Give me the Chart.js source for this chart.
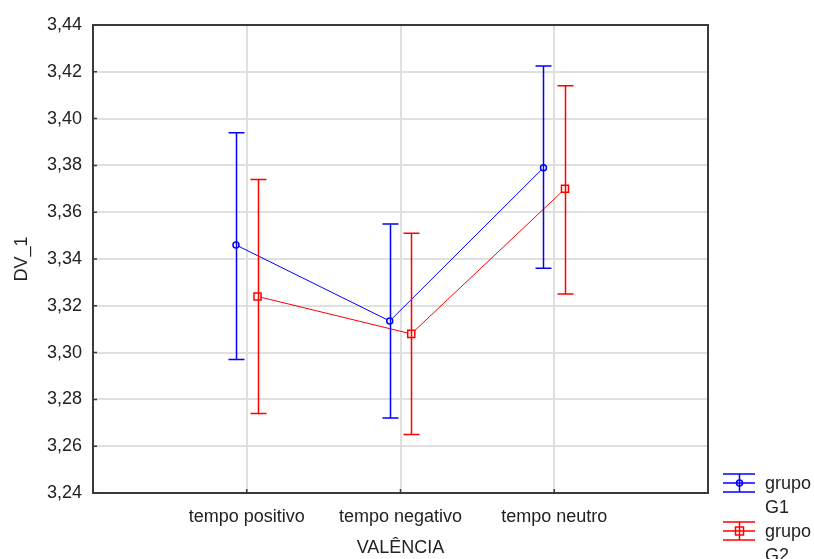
<!DOCTYPE html>
<html>
<head>
<meta charset="utf-8">
<script src="https://cdn.jsdelivr.net/npm/chart.js@4"></script>
<style>
  body { margin: 0; background: #fff; }
  canvas { display: block; }
</style>
</head>
<body>
<canvas id="myChart" width="814" height="559"></canvas>
<script>
// categories and values
const categories = ["tempo positivo", "tempo negativo", "tempo neutro"];
const g1Mean  = [3.346, 3.3135, 3.379];
const g1Upper = [3.394, 3.355, 3.4225];
const g1Lower = [3.297, 3.272, 3.336];
const g2Mean  = [3.324, 3.308, 3.370];
const g2Upper = [3.374, 3.351, 3.414];
const g2Lower = [3.274, 3.265, 3.325];
const seriesNames = ["grupo G1", "grupo G2"];
const yTicks = [3.24, 3.26, 3.28, 3.30, 3.32, 3.34, 3.36, 3.38, 3.40, 3.42, 3.44];

const FONT = "'Liberation Sans', Arial, sans-serif";
const blue = "rgb(0,0,255)";
const red = "rgb(255,0,0)";
const shift = 0.07;

function points(means, off) {
    return means.map((v, i) => ({ x: i + 1 + off, y: v }));
}

const errorBars = {
    id: "errorBars",
    afterDatasetsDraw(chart) {
        const ctx = chart.ctx;
        const xs = chart.scales.x, ys = chart.scales.y;
        const sets = [[g1Upper, g1Lower, -shift, blue], [g2Upper, g2Lower, shift, red]];
        ctx.save();
        ctx.lineWidth = 1.5;
        sets.forEach(([up, lo, off, col]) => {
            ctx.strokeStyle = col;
            up.forEach((u, i) => {
                const x = Math.round(xs.getPixelForValue(i + 1 + off)) + 0.5;
                const y1 = ys.getPixelForValue(u), y2 = ys.getPixelForValue(lo[i]);
                ctx.beginPath();
                ctx.moveTo(x, y1); ctx.lineTo(x, y2);
                ctx.moveTo(x - 8, y1); ctx.lineTo(x + 8, y1);
                ctx.moveTo(x - 8, y2); ctx.lineTo(x + 8, y2);
                ctx.stroke();
            });
        });
        ctx.restore();
    },
    afterDraw(chart) {
        const ctx = chart.ctx;
        const a = chart.chartArea;
        const xs = chart.scales.x, ys = chart.scales.y;
        ctx.save();
        // frame
        ctx.strokeStyle = "#3a3a3a";
        ctx.lineWidth = 2;
        ctx.strokeRect(a.left, a.top, a.right - a.left, a.bottom - a.top);
        // inner tick marks
        ctx.lineWidth = 1.5;
        ctx.beginPath();
        yTicks.forEach(v => {
            const y = ys.getPixelForValue(v);
            ctx.moveTo(a.left, y); ctx.lineTo(a.left + 4, y);
        });
        categories.forEach((c, i) => {
            const x = xs.getPixelForValue(i + 1);
            ctx.moveTo(x, a.bottom); ctx.lineTo(x, a.bottom - 4);
        });
        ctx.stroke();
        // legend
        const items = [[blue, "circle", "G1", 483], [red, "rect", "G2", 531]];
        ctx.font = "18px " + FONT;
        ctx.textBaseline = "middle";
        ctx.textAlign = "left";
        items.forEach(([col, shape, lab, cy]) => {
            ctx.strokeStyle = col;
            ctx.lineWidth = 1.5;
            ctx.beginPath();
            ctx.moveTo(723, cy - 9); ctx.lineTo(755, cy - 9);
            ctx.moveTo(723, cy); ctx.lineTo(755, cy);
            ctx.moveTo(723, cy + 9); ctx.lineTo(755, cy + 9);
            ctx.moveTo(739.5, cy - 9); ctx.lineTo(739.5, cy + 9);
            ctx.stroke();
            ctx.beginPath();
            if (shape === "circle") ctx.arc(739.5, cy, 3, 0, Math.PI * 2);
            else ctx.rect(735.5, cy - 4, 8, 8);
            ctx.stroke();
            ctx.fillStyle = "#222";
            ctx.fillText("grupo", 765, cy + 1);
            ctx.fillText(lab, 765, cy + 25);
        });
        ctx.restore();
    }
};

const data = {
    type: "scatter",
    data: {
        datasets: [{
            label: seriesNames[0],
            data: points(g1Mean, -shift),
            showLine: true,
            borderColor: blue,
            borderWidth: 1,
            pointStyle: "circle",
            pointRadius: 3,
            pointBorderWidth: 1.5,
            pointBackgroundColor: "#fff",
            pointBorderColor: blue
        }, {
            label: seriesNames[1],
            data: points(g2Mean, shift),
            showLine: true,
            borderColor: red,
            borderWidth: 1,
            pointStyle: "rect",
            pointRadius: 5,
            pointBorderWidth: 1.5,
            pointBackgroundColor: "#fff",
            pointBorderColor: red
        }]
    },
    options: {
        responsive: false,
        animation: false,
        layout: { padding: { left: 0, top: 25, right: 106, bottom: 0 } },
        plugins: { legend: { display: false }, tooltip: { enabled: false } },
        scales: {
            x: {
                type: "linear",
                min: 0, max: 4,
                afterBuildTicks: s => { s.ticks = categories.map((c, i) => ({ value: i + 1 })); },
                afterFit: s => { s.height = 66; },
                border: { display: false },
                grid: { color: "#e0e0e0", lineWidth: 2, drawTicks: false },
                ticks: {
                    padding: 13,
                    color: "#222",
                    font: { family: FONT, size: 18 },
                    maxRotation: 0,
                    autoSkip: false,
                    callback: v => categories[v - 1] || ""
                },
                title: {
                    display: true, text: "VALÊNCIA", color: "#222",
                    font: { family: FONT, size: 18 },
                    padding: { top: 0, bottom: 0 }
                }
            },
            y: {
                min: 3.24, max: 3.44,
                afterBuildTicks: s => { s.ticks = yTicks.map(v => ({ value: v })); },
                afterFit: s => { s.width = 93; },
                border: { display: false },
                grid: { color: "#e0e0e0", lineWidth: 2, drawTicks: false },
                ticks: {
                    padding: 11,
                    color: "#222",
                    font: { family: FONT, size: 18 },
                    callback: v => v.toFixed(2).replace(".", ",")
                },
                title: {
                    display: true, text: "DV_1", color: "#222",
                    font: { family: FONT, size: 18 },
                    padding: { top: 11, bottom: 0 }
                }
            }
        }
    },
    plugins: [errorBars]
};

window.onload = function () {
    new Chart("myChart", data);
};
</script>
</body>
</html>
